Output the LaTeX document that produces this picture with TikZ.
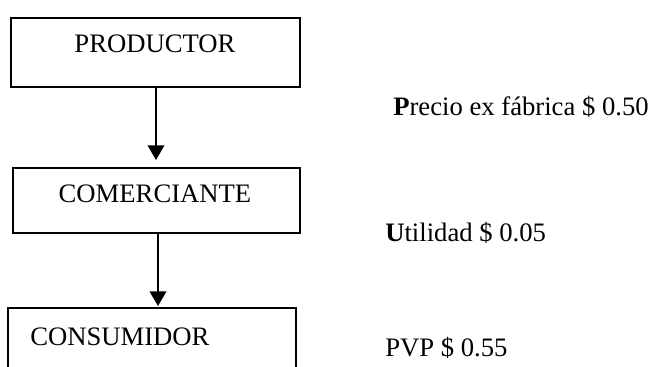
\documentclass[tikz,border=0pt]{standalone}
\usepackage{fontspec}
\setmainfont{Liberation Serif}
\usetikzlibrary{arrows.meta}
\begin{document}
\begin{tikzpicture}[x=0.75pt,y=-0.75pt,
  box/.style={draw,line width=1.2pt,inner sep=0pt,anchor=north west},
  lbl/.style={font=\fontsize{20}{24}\selectfont,inner sep=0pt},
  flow/.style={line width=1.2pt,-{Triangle[width=12.5pt,length=11pt]}}]
\useasboundingbox (0,0) rectangle (650,367);
% boxes
\node[box,minimum width=289*0.75pt,minimum height=69*0.75pt] (prod) at (10,17) {};
\node[box,minimum width=287*0.75pt,minimum height=65*0.75pt] (com) at (12,167) {};
\coordinate (c3tl) at (8,308);
\coordinate (c3tr) at (296,308);
\draw[line width=1.2pt] (8,372) -- (c3tl) -- (c3tr) -- (296,372);
% texts in boxes
\node[lbl] (tprod) at (155,44) {PRODUCTOR};
\node[lbl] (tcom) at (155,194) {COMERCIANTE};
\node[lbl,anchor=west] (tcons) at (30,337) {CONSUMIDOR};
% arrows
\coordinate (a1) at (156,160);
\coordinate (a2) at (158,306);
\draw[flow] (prod.south -| a1) -- (a1);
\draw[flow] (com.south -| a2) -- (a2);
% right-hand labels
\node[lbl,anchor=west] (precio) at (393,107) {\textbf{P}recio ex fábrica \$ 0.50};
\node[lbl,anchor=west] (util) at (385,233) {\textbf{U}tilidad \$ 0.05};
\node[lbl,anchor=west] (pvp) at (385,348) {PVP \$ 0.55};
\end{tikzpicture}
\end{document}
